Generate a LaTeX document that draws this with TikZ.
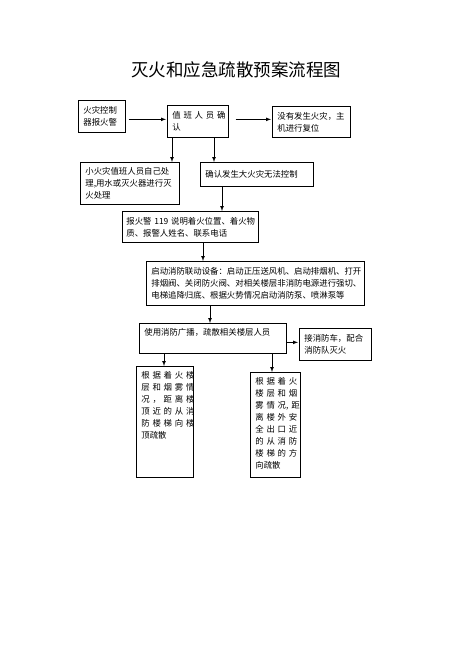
\documentclass[tikz,border=0pt]{standalone}
\usepackage{fontspec}
\newfontfamily\cjk{Noto Sans CJK SC}
\usetikzlibrary{shapes,arrows,positioning}
\tikzstyle{blk} = [draw,line width=0.7pt,rectangle,anchor=north west,align=left,inner xsep=5pt,inner ysep=2pt,font=\cjk\fontsize{8.4}{12}\selectfont]
\tikzstyle{arr} = [->,>=latex,line width=0.7pt]
\newcommand{\jl}[1]{\makebox[\linewidth][s]{#1}}
\newcommand{\tp}[2]{\parbox[c][#1][t]{\linewidth}{\vspace*{3pt}#2}}

\begin{document}
\begin{tikzpicture}[x=1pt,y=-1pt]
      \useasboundingbox (0,0) rectangle (474,666);
      \node[font=\cjk\fontsize{17.5}{20}\selectfont] (title) at (236,70) {灭火和应急疏散预案流程图};
      \node[blk,text width=37pt,minimum height=32pt] (alarm) at (78,100) {火灾控制\\器报火警};
      \node[blk,text width=51pt,minimum height=32pt] (duty) at (167,105) {\jl{值 班 人 员 确}\\认};
      \node[blk,text width=68pt,minimum height=31pt] (nofire) at (272,106) {没有发生火灾，主\\机进行复位};
      \node[blk,text width=89pt,minimum height=42pt] (small) at (80,162) {小火灾值班人员自己处\\理,用水或灭火器进行灭\\火处理};
      \node[blk,text width=103pt,minimum height=24pt] (big) at (200,162) {确认发生大火灾无法控制};
      \node[blk,inner xsep=4pt,text width=128pt,minimum height=31pt] (call) at (122,211) {\mbox{报火警~119~说明着火位置、着火物}\\质、报警人姓名、联系电话};
      \node[blk,text width=208pt,minimum height=44pt] (equip) at (146,261) {启动消防联动设备：启动正压送风机、启动排烟机、打开\\排烟阀、关闭防火阀、对相关楼层非消防电源进行强切、\\电梯追降归底、根据火势情况启动消防泵、喷淋泵等};
      \node[blk,text width=137pt] (bcast) at (139,323) {\tp{26pt}{使用消防广播，疏散相关楼层人员}};
      \node[blk,text width=62pt,minimum height=32pt] (truck) at (299,328) {接消防车，配合\\消防队灭火};
      \node[blk,text width=47pt] (up) at (136,366) {\tp{107pt}{\jl{根 据 着 火 楼}\\\jl{层 和 烟 雾 情}\\\jl{况 ， 距 离 楼}\\\jl{顶 近 的 从 消}\\\jl{防 楼 梯 向 楼}\\顶疏散}};
      \node[blk,text width=40pt] (out) at (250,372) {\tp{101pt}{\jl{根 据 着 火}\\\jl{楼 层 和 烟}\\\jl{雾 情 况, 距}\\\jl{离 楼 外 安}\\\jl{全 出 口 近}\\\jl{的 从 消 防}\\\jl{楼 梯 的 方}\\向疏散}};
      \draw[arr,shorten <=3pt,shorten >=1pt] ([yshift=-3pt]alarm.east) -- ([yshift=-3pt]alarm.east -| duty.west);
      \draw[arr,shorten <=7pt,shorten >=1pt] ([yshift=2pt]duty.east) -- ([yshift=2pt]duty.east -| nofire.west);
      \draw[arr] ([xshift=5pt]duty.south west) -- ([xshift=5pt]duty.south west |- small.north);
      \draw[arr] ([xshift=47pt]duty.south west) -- ([xshift=47pt]duty.south west |- big.north);
      \draw[arr] ([xshift=22pt]big.south west) -- ([xshift=22pt]big.south west |- call.north);
      \draw[arr] ([xshift=81pt]call.south west) -- ([xshift=81pt]call.south west |- equip.north);
      \draw[arr] ([xshift=64pt]equip.south west) -- ([xshift=64pt]equip.south west |- bcast.north);
      \draw[arr,shorten >=1pt] ([yshift=-4pt]bcast.east) -- ([yshift=-4pt]bcast.east -| truck.west);
      \draw[arr] ([xshift=25pt]bcast.south west) -- ([xshift=25pt]bcast.south west |- up.north);
      \draw[arr] ([xshift=133pt]bcast.south west) -- ([xshift=133pt]bcast.south west |- out.north);
    \end{tikzpicture}
\end{document}
